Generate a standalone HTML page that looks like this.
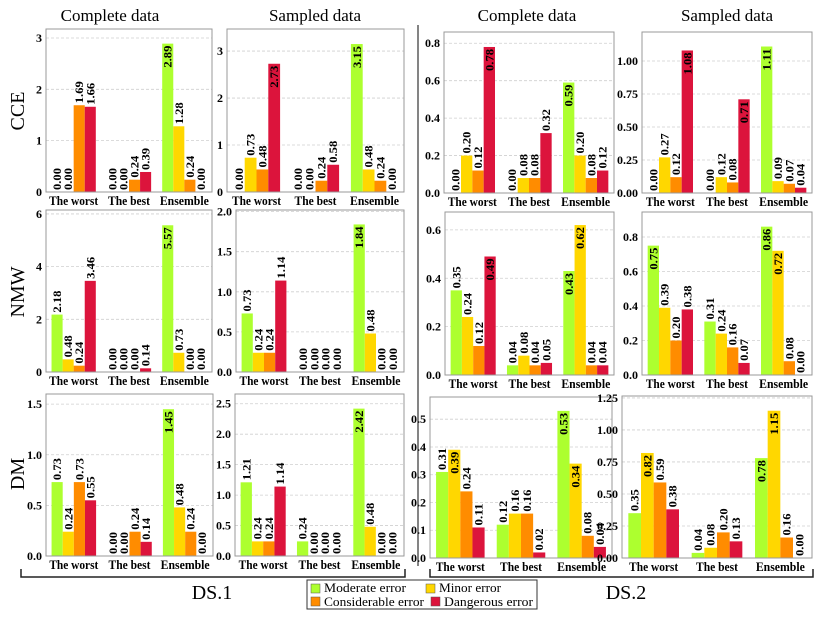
<!DOCTYPE html>
<html><head><meta charset="utf-8"><style>
body{margin:0;background:#fff}
svg, svg text{font-family:"Liberation Serif","Times New Roman",serif}
</style></head><body>
<svg id="c" width="825" height="619" viewBox="0 0 825 619"></svg>
<script>
const groups = ["The worst","The best","Ensemble"];
const seriesNames = ["Moderate error","Minor error","Considerable error","Dangerous error"];
const colors = ["#ADFF2F","#FFD700","#FF8C00","#DC143C"];
// values[group][series]
const r1c1 = [[0,0,1.69,1.66],[0,0,0.24,0.39],[2.89,1.28,0.24,0]];
const r1c2 = [[0,0.73,0.48,2.73],[0,0,0.24,0.58],[3.15,0.48,0.24,0]];
const r1c3 = [[0,0.20,0.12,0.78],[0,0.08,0.08,0.32],[0.59,0.20,0.08,0.12]];
const r1c4 = [[0,0.27,0.12,1.08],[0,0.12,0.08,0.71],[1.11,0.09,0.07,0.04]];
const r2c1 = [[2.18,0.48,0.24,3.46],[0,0,0,0.14],[5.57,0.73,0,0]];
const r2c2 = [[0.73,0.24,0.24,1.14],[0,0,0,0],[1.84,0.48,0,0]];
const r2c3 = [[0.35,0.24,0.12,0.49],[0.04,0.08,0.04,0.05],[0.43,0.62,0.04,0.04]];
const r2c4 = [[0.75,0.39,0.20,0.38],[0.31,0.24,0.16,0.07],[0.86,0.72,0.08,0.00]];
const r3c1 = [[0.73,0.24,0.73,0.55],[0,0,0.24,0.14],[1.45,0.48,0.24,0]];
const r3c2 = [[1.21,0.24,0.24,1.14],[0.24,0,0,0],[2.42,0.48,0,0]];
const r3c3 = [[0.31,0.39,0.24,0.11],[0.12,0.16,0.16,0.02],[0.53,0.34,0.08,0.04]];
const r3c4 = [[0.35,0.82,0.59,0.38],[0.04,0.08,0.20,0.13],[0.78,1.15,0.16,0.00]];
const t1c1 = ["0","1","2","3"], t1c2 = ["0","1","2","3"];
const t1c3 = ["0.0","0.2","0.4","0.6","0.8"], t1c4 = ["0.00","0.25","0.50","0.75","1.00"];
const t2c1 = ["0","2","4","6"], t2c2 = ["0.0","0.5","1.0","1.5","2.0"];
const t2c3 = ["0.0","0.2","0.4","0.6"], t2c4 = ["0.0","0.2","0.4","0.6","0.8"];
const t3c1 = ["0.0","0.5","1.0","1.5"], t3c2 = ["0.0","0.5","1.0","1.5","2.0","2.5"];
const t3c3 = ["0.0","0.1","0.2","0.3","0.4","0.5"], t3c4 = ["0.00","0.25","0.50","0.75","1.00","1.25"];
const ymax = [[3.175,3.47,0.86,1.22],[6.15,2.02,0.674,0.945],[1.6,2.66,0.58,1.265]];
const labelWidths = [49,42,49];

const svg = document.getElementById('c');
const NS = "http://www.w3.org/2000/svg";
function mk(tag, attrs, parent){const e=document.createElementNS(NS,tag);for(const k in attrs)e.setAttribute(k,attrs[k]);(parent||svg).appendChild(e);return e;}

const panels = [
 {d:r1c1,t:t1c1,l:46,r:212,top:29,b:192,name:"cce-ds1-complete"},
 {d:r1c2,t:t1c2,l:227,r:404,top:29,b:192,name:"cce-ds1-sampled"},
 {d:r1c3,t:t1c3,l:444,r:614,top:32,b:193,name:"cce-ds2-complete"},
 {d:r1c4,t:t1c4,l:642,r:812,top:32,b:193,name:"cce-ds2-sampled"},
 {d:r2c1,t:t2c1,l:46,r:212,top:210,b:372,name:"nmw-ds1-complete"},
 {d:r2c2,t:t2c2,l:236,r:404,top:210,b:372,name:"nmw-ds1-sampled"},
 {d:r2c3,t:t2c3,l:445,r:614,top:212,b:375,name:"nmw-ds2-complete"},
 {d:r2c4,t:t2c4,l:642,r:812,top:212,b:375,name:"nmw-ds2-sampled"},
 {d:r3c1,t:t3c1,l:46,r:213,top:394,b:556,name:"dm-ds1-complete"},
 {d:r3c2,t:t3c2,l:235,r:404,top:394,b:556,name:"dm-ds1-sampled"},
 {d:r3c3,t:t3c3,l:430,r:612,top:397,b:558,name:"dm-ds2-complete"},
 {d:r3c4,t:t3c4,l:622,r:812,top:396,b:558,name:"dm-ds2-sampled"}
];
panels.forEach((p,i)=>{
  const ym = ymax[Math.floor(i/4)][i%4];
  const g = mk('g',{});
  
  
  const y = v => p.b - v/ym*(p.b-p.top);
  const x = v => p.l + (v+0.5)/3*(p.r-p.l);
  const unit = (p.r-p.l)/3, bw = unit*0.2;
  p.t.forEach(s=>{
    const v=parseFloat(s), yy=y(v);
    if(v>0){const gl=mk('line',{x1:p.l,x2:p.r,y1:yy,y2:yy,stroke:"#cfcfcf","stroke-width":0.8,"stroke-dasharray":"3,2"},g);
      }
    const tl=mk('text',{x:p.l-4,y:yy+4,"text-anchor":"end","font-size":12,"font-weight":"bold"},g);
    tl.textContent=s;
    
  });
  p.d.forEach((grp,gi)=>{
    grp.forEach((v,si)=>{
      const cx = x(gi) + (si-1.5)*bw;
      const r=mk('rect',{x:cx-bw/2,y:y(v),width:bw,height:p.b-y(v),fill:colors[si]},g);
      
      
      const inside = v/ym > 0.575;
      const ty = inside ? y(v)+2 : y(v)-2;
      const lab=mk('text',{transform:`translate(${cx+4},${ty}) rotate(-90)`,"text-anchor":inside?"end":"start","font-size":11.5,"font-weight":"bold",textLength:22,lengthAdjust:"spacingAndGlyphs"},g);
      lab.textContent=v.toFixed(2);
      
      
    });
    const xl=mk('text',{x:x(gi)-labelWidths[gi]/2,y:p.b+13,"font-size":13,"font-weight":"bold",textLength:labelWidths[gi],lengthAdjust:"spacingAndGlyphs"},g);
    xl.textContent=groups[gi];
    
  });
  const fr=mk('rect',{x:p.l,y:p.top,width:p.r-p.l,height:p.b-p.top,fill:"none",stroke:"#999","stroke-width":1},g);
  
});
</script>
<script>
const S=document.getElementById('c');
function add(html){S.insertAdjacentHTML('beforeend',html);}
add(`<text x="110" y="21" text-anchor="middle" font-size="17">Complete data</text>
<text x="315" y="21" text-anchor="middle" font-size="17">Sampled data</text>
<text x="527" y="21" text-anchor="middle" font-size="17">Complete data</text>
<text x="727" y="21" text-anchor="middle" font-size="17">Sampled data</text>
<text transform="translate(24,111) rotate(-90)" text-anchor="middle" font-size="20">CCE</text>
<text transform="translate(24,292) rotate(-90)" text-anchor="middle" font-size="20">NMW</text>
<text transform="translate(24,474) rotate(-90)" text-anchor="middle" font-size="20">DM</text>
<line x1="418" y1="25" x2="418" y2="566" stroke="#333" stroke-width="1.2"/>
<path d="M21,569 V577 H405 V569" fill="none" stroke="#222" stroke-width="1.5"/>
<path d="M430,569 V577 H813 V569" fill="none" stroke="#222" stroke-width="1.5"/>
<text x="212" y="599" text-anchor="middle" font-size="20">DS.1</text>
<text x="626" y="599" text-anchor="middle" font-size="20">DS.2</text>
<g>
<rect x="307" y="580" width="230" height="29" fill="#fff" stroke="#333" stroke-width="1"/>
<rect x="311" y="584" width="9" height="9" fill="#ADFF2F" stroke="#555" stroke-width="0.5"/><text x="324" y="592" font-size="13" textLength="82" lengthAdjust="spacingAndGlyphs">Moderate error</text>
<rect x="426" y="584" width="9" height="9" fill="#FFD700" stroke="#555" stroke-width="0.5"/><text x="439" y="592" font-size="13" textLength="62" lengthAdjust="spacingAndGlyphs">Minor error</text>
<rect x="311" y="597" width="9" height="9" fill="#FF8C00" stroke="#555" stroke-width="0.5"/><text x="324" y="606" font-size="13" textLength="100" lengthAdjust="spacingAndGlyphs">Considerable error</text>
<rect x="431" y="597" width="9" height="9" fill="#DC143C" stroke="#555" stroke-width="0.5"/><text x="444" y="606" font-size="13" textLength="89" lengthAdjust="spacingAndGlyphs">Dangerous error</text>
</g>`);
</script>
</body></html>
